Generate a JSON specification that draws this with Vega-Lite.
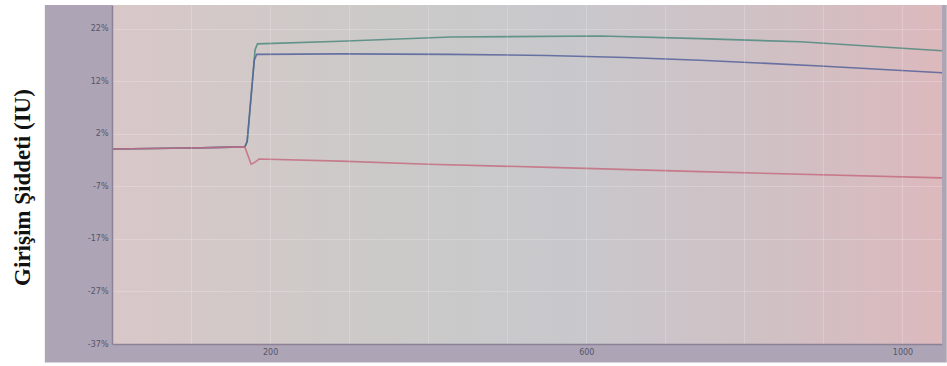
{
  "$schema": "https://vega.github.io/schema/vega-lite/v6.json",
  "width": 830,
  "height": 339,
  "autosize": {"type": "none"},
  "padding": {"left": 112, "top": 5, "right": 5, "bottom": 22},
  "background": "#ffffff",
  "config": {"view": {"stroke": null, "fill": null}},
  "layer": [
    {
      "data": {"values": [{}]},
      "mark": {"type": "rect", "color": "#ada4b5"},
      "encoding": {
        "x": {"datum": -85, "type": "quantitative", "scale": {"domain": [0, 1050], "nice": false, "zero": false}},
        "x2": {"datum": 1056},
        "y": {"datum": -41.0, "type": "quantitative", "scale": {"domain": [-37.5, 27], "nice": false, "zero": false}},
        "y2": {"datum": 27}
      }
    },
    {
      "data": {"values": [{}]},
      "mark": {
        "type": "rect",
        "color": {
          "gradient": "linear",
          "x1": 0, "y1": 0, "x2": 1, "y2": 0,
          "stops": [
            {"offset": 0, "color": "#d9c7c8"},
            {"offset": 0.3, "color": "#cccac8"},
            {"offset": 0.55, "color": "#c8c8cc"},
            {"offset": 0.8, "color": "#d0c0c4"},
            {"offset": 1, "color": "#dcb9bd"}
          ]
        }
      },
      "encoding": {
        "x": {"datum": 0, "type": "quantitative"},
        "x2": {"datum": 1050},
        "y": {"datum": -37.5, "type": "quantitative"},
        "y2": {"datum": 27}
      }
    },
    {
      "data": {
        "values": [
          {"s": "Seri 1", "x": 0, "y": -0.4},
          {"s": "Seri 1", "x": 100, "y": -0.2},
          {"s": "Seri 1", "x": 168, "y": 0.0},
          {"s": "Seri 1", "x": 171, "y": 1.0},
          {"s": "Seri 1", "x": 181, "y": 18.5},
          {"s": "Seri 1", "x": 184, "y": 19.6},
          {"s": "Seri 1", "x": 289, "y": 20.1},
          {"s": "Seri 1", "x": 428, "y": 20.9},
          {"s": "Seri 1", "x": 618, "y": 21.1},
          {"s": "Seri 1", "x": 744, "y": 20.6},
          {"s": "Seri 1", "x": 871, "y": 20.0},
          {"s": "Seri 1", "x": 1050, "y": 18.3},
          {"s": "Seri 2", "x": 0, "y": -0.4},
          {"s": "Seri 2", "x": 100, "y": -0.2},
          {"s": "Seri 2", "x": 168, "y": 0.0},
          {"s": "Seri 2", "x": 171, "y": 1.0},
          {"s": "Seri 2", "x": 180, "y": 16.5},
          {"s": "Seri 2", "x": 183, "y": 17.6},
          {"s": "Seri 2", "x": 289, "y": 17.7},
          {"s": "Seri 2", "x": 428, "y": 17.6},
          {"s": "Seri 2", "x": 550, "y": 17.4},
          {"s": "Seri 2", "x": 650, "y": 17.0},
          {"s": "Seri 2", "x": 744, "y": 16.5},
          {"s": "Seri 2", "x": 896, "y": 15.4},
          {"s": "Seri 2", "x": 1050, "y": 14.1},
          {"s": "Seri 3", "x": 0, "y": -0.4},
          {"s": "Seri 3", "x": 100, "y": -0.2},
          {"s": "Seri 3", "x": 168, "y": 0.0},
          {"s": "Seri 3", "x": 176, "y": -3.3},
          {"s": "Seri 3", "x": 180, "y": -3.0},
          {"s": "Seri 3", "x": 186, "y": -2.3},
          {"s": "Seri 3", "x": 289, "y": -2.7},
          {"s": "Seri 3", "x": 400, "y": -3.3},
          {"s": "Seri 3", "x": 554, "y": -3.9},
          {"s": "Seri 3", "x": 744, "y": -4.7},
          {"s": "Seri 3", "x": 1050, "y": -5.9}
        ]
      },
      "mark": {"type": "line", "strokeWidth": 1.6, "opacity": 0.85},
      "encoding": {
        "x": {
          "field": "x", "type": "quantitative",
          "axis": {
            "values": [0, 100, 200, 300, 400, 500, 600, 700, 800, 900, 1000],
            "labelExpr": "datum.value % 400 == 200 ? datum.value : ''",
            "title": null,
            "grid": true,
            "gridColor": "#ffffff",
            "gridOpacity": 0.2,
            "ticks": false,
            "domainColor": "#8c8196",
            "domainWidth": 1.5,
            "labelFont": "DejaVu Sans",
            "labelFontSize": 8,
            "labelColor": "#55566c",
            "labelPadding": 4,
            "zindex": 1
          }
        },
        "y": {
          "field": "y", "type": "quantitative",
          "axis": {
            "values": [-37.5, -27.5, -17.5, -7.5, 2.5, 12.5, 22.5],
            "labelExpr": "(datum.value > 0 ? floor(datum.value) : ceil(datum.value)) + '%'",
            "title": "Girişim Şiddeti (IU)",
            "titleFont": "Liberation Serif",
            "titleFontSize": 23,
            "titleFontWeight": "bold",
            "titleColor": "#111111",
            "titleX": -90,
            "titleY": 182,
            "titleBaseline": "middle",
            "grid": true,
            "gridColor": "#ffffff",
            "gridOpacity": 0.2,
            "ticks": false,
            "domainColor": "#8c8196",
            "domainWidth": 1.5,
            "labelFont": "DejaVu Sans",
            "labelFontSize": 8,
            "labelColor": "#55566c",
            "labelPadding": 4,
            "zindex": 1
          }
        },
        "color": {
          "field": "s", "type": "nominal",
          "scale": {"domain": ["Seri 1", "Seri 2", "Seri 3"], "range": ["#4f8a7e", "#55629a", "#c46d80"]},
          "legend": null
        }
      }
    }
  ]
}
